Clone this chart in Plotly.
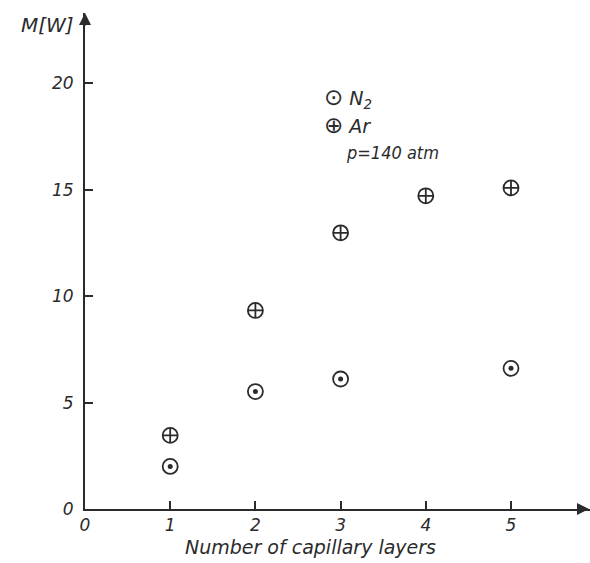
import plotly.graph_objects as go

layers_ar = [1, 2, 3, 4, 5]
power_ar = [3.46, 9.33, 12.98, 14.72, 15.09]
layers_n2 = [1, 2, 3, 5]
power_n2 = [2.0, 5.52, 6.11, 6.61]
x_ticks = [0, 1, 2, 3, 4, 5]
y_ticks = [0, 5, 10, 15, 20]

ink = "#2b2b2b"
font = dict(family="DejaVu Sans", size=17, color=ink, style="italic")

fig = go.Figure()
fig.add_trace(go.Scatter(x=layers_ar, y=power_ar, mode="markers", name="Ar",
                         marker=dict(symbol="circle-cross-open", size=15,
                                     color=ink, line=dict(width=1.8, color=ink))))
fig.add_trace(go.Scatter(x=layers_n2, y=power_n2, mode="markers", name="N2",
                         marker=dict(symbol="circle-open", size=15,
                                     color=ink, line=dict(width=1.8, color=ink))))
fig.add_trace(go.Scatter(x=layers_n2, y=power_n2, mode="markers", name="N2 dot",
                         marker=dict(symbol="circle", size=5, color=ink)))

L, R, T, B = 85, 0, 13, 53.5
W, H = 590, 563
pw, ph = W - L - R, H - T - B

def px(xp):
    return (xp - L) / pw

def py(yp):
    return (H - B - yp) / ph

sym = "<span style='font-size:23px;font-style:normal'>%s</span>"
annotations = [
    dict(text="Number of capillary layers", x=px(310), y=py(548), xref="paper", yref="paper",
         yanchor="middle", showarrow=False,
         font=dict(family="DejaVu Sans", size=19, color=ink, style="italic")),
    dict(text="M[W]", x=px(76), y=py(25), xref="paper", yref="paper", xanchor="right",
         yanchor="middle", showarrow=False,
         font=dict(family="DejaVu Sans", size=20, color=ink, style="italic")),
    dict(text=(sym % "⊙") + " <i>N</i><sub>2</sub>", x=px(322), y=py(98), xref="paper", yref="paper",
         xanchor="left", yanchor="middle", showarrow=False,
         font=dict(family="DejaVu Sans", size=19, color=ink)),
    dict(text=(sym % "⊕") + " <i>Ar</i>", x=px(322), y=py(125), xref="paper", yref="paper",
         xanchor="left", yanchor="middle", showarrow=False,
         font=dict(family="DejaVu Sans", size=19, color=ink)),
    dict(text="<i>p=140 atm</i>", x=px(344), y=py(153), xref="paper", yref="paper",
         xanchor="left", yanchor="middle", showarrow=False,
         font=dict(family="DejaVu Sans Condensed", size=18, color=ink)),
    # axis arrowheads
    dict(x=1, y=0, xref="paper", yref="paper", ax=-14, ay=0, showarrow=True,
         arrowhead=2, arrowsize=1.2, arrowwidth=2, arrowcolor=ink, text=""),
    dict(x=0, y=1, xref="paper", yref="paper", ax=0, ay=14, showarrow=True,
         arrowhead=2, arrowsize=1.2, arrowwidth=2, arrowcolor=ink, text=""),
]

fig.update_layout(
    width=W, height=H,
    margin=dict(l=L, r=R, t=T, b=B),
    plot_bgcolor="white", paper_bgcolor="white",
    showlegend=False,
    font=font,
    annotations=annotations,
    xaxis=dict(range=[0, (W - L - R) / 85.2], tickvals=x_ticks, ticktext=[str(v) for v in x_ticks],
               showgrid=False, zeroline=False, showline=True, linecolor=ink, linewidth=2,
               ticks="inside", ticklen=8, tickwidth=1.5, tickcolor=ink, tickfont=font),
    yaxis=dict(range=[0, ph / 21.3], tickvals=y_ticks, ticktext=[str(v) for v in y_ticks],
               showgrid=False, zeroline=False, showline=True, linecolor=ink, linewidth=2,
               ticks="inside", ticklen=8, tickwidth=1.5, tickcolor=ink, tickfont=font,
               ticklabelstandoff=6),
)

fig.write_html("out.html")
